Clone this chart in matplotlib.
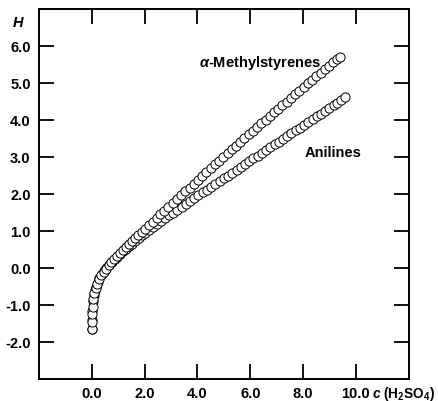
import matplotlib
matplotlib.use("Agg")
import matplotlib.pyplot as plt

plt.rcParams['font.family'] = ['Liberation Sans', 'DejaVu Sans']
plt.rcParams['font.weight'] = 'bold'
plt.rcParams['mathtext.fontset'] = 'custom'
plt.rcParams['mathtext.rm'] = 'Liberation Sans:bold'
plt.rcParams['mathtext.it'] = 'Liberation Sans:italic:bold'
plt.rcParams['mathtext.bf'] = 'Liberation Sans:bold'

# alpha-Methylstyrenes
c_ms = [0.00, 0.01, 0.02, 0.03, 0.06, 0.10, 0.15, 0.21, 0.28, 0.36, 0.45, 0.54,
        0.64, 0.74, 0.85, 0.96, 1.07, 1.18, 1.29, 1.40, 1.52, 1.64, 1.76, 1.89,
        2.02, 2.16, 2.30, 2.45, 2.60, 2.75, 2.90, 3.06, 3.22, 3.38, 3.54, 3.70,
        3.86, 4.02, 4.18, 4.34, 4.50, 4.66, 4.82, 4.98, 5.14, 5.30, 5.46, 5.62,
        5.78, 5.94, 6.10, 6.26, 6.42, 6.58, 6.74, 6.90, 7.06, 7.22, 7.38, 7.54,
        7.70, 7.86, 8.02, 8.18, 8.34, 8.50, 8.66, 8.82, 8.98, 9.14, 9.28, 9.40]
H_ms = [-1.65, -1.45, -1.25, -1.05, -0.85, -0.68, -0.55, -0.42, -0.30, -0.20, -0.10, -0.02,
        0.07, 0.15, 0.24, 0.32, 0.40, 0.48, 0.56, 0.64, 0.72, 0.80, 0.88, 0.97,
        1.06, 1.15, 1.25, 1.35, 1.45, 1.55, 1.65, 1.76, 1.86, 1.96, 2.07, 2.17,
        2.28, 2.38, 2.49, 2.59, 2.70, 2.80, 2.90, 3.01, 3.11, 3.21, 3.31, 3.41,
        3.51, 3.61, 3.71, 3.81, 3.91, 4.01, 4.11, 4.21, 4.31, 4.40, 4.50, 4.60,
        4.70, 4.79, 4.89, 4.99, 5.08, 5.18, 5.27, 5.37, 5.47, 5.56, 5.64, 5.71]

# Anilines
c_an = [0.00, 0.01, 0.02, 0.04, 0.07, 0.11, 0.16, 0.22, 0.29, 0.37, 0.46, 0.55,
        0.65, 0.75, 0.86, 0.97, 1.08, 1.19, 1.30, 1.41, 1.53, 1.65, 1.77, 1.90,
        2.03, 2.17, 2.31, 2.46, 2.61, 2.76, 2.92, 3.08, 3.24, 3.40, 3.56, 3.72,
        3.88, 4.04, 4.20, 4.36, 4.52, 4.68, 4.84, 5.00, 5.16, 5.32, 5.48, 5.64,
        5.80, 5.96, 6.12, 6.28, 6.44, 6.60, 6.76, 6.92, 7.08, 7.24, 7.40, 7.56,
        7.72, 7.88, 8.04, 8.20, 8.36, 8.52, 8.68, 8.84, 9.00, 9.16, 9.30, 9.44, 9.60]
H_an = [-1.65, -1.40, -1.15, -0.90, -0.72, -0.60, -0.50, -0.38, -0.27, -0.17, -0.08, 0.00,
        0.08, 0.15, 0.23, 0.31, 0.38, 0.45, 0.52, 0.59, 0.66, 0.73, 0.80, 0.88,
        0.95, 1.02, 1.10, 1.18, 1.26, 1.34, 1.42, 1.50, 1.58, 1.66, 1.74, 1.82,
        1.89, 1.97, 2.05, 2.12, 2.20, 2.27, 2.35, 2.43, 2.50, 2.58, 2.65, 2.73,
        2.81, 2.88, 2.96, 3.03, 3.11, 3.19, 3.26, 3.34, 3.41, 3.49, 3.57, 3.64,
        3.72, 3.79, 3.87, 3.95, 4.02, 4.10, 4.17, 4.25, 4.33, 4.40, 4.47, 4.54, 4.62]

x_ticks = [0, 2, 4, 6, 8, 10]
x_labels = ['0.0', '2.0', '4.0', '6.0', '8.0', '10.0']
y_ticks = [-2, -1, 0, 1, 2, 3, 4, 5, 6]
y_labels = ['-2.0', '-1.0', '0.0', '1.0', '2.0', '3.0', '4.0', '5.0', '6.0']

W, Hpx = 438, 402
fig = plt.figure(figsize=(W/100, Hpx/100), dpi=100)
ax = fig.add_axes([39/W, 1-380/Hpx, (408.7-39)/W, (380-10)/Hpx])

mk = dict(linestyle='none', marker='o', markersize=6.6, markerfacecolor='white',
          markeredgecolor='black', markeredgewidth=0.7)
ax.plot(c_an, H_an, **mk)
ax.plot(c_ms, H_ms, **mk)

ax.set_xlim(-2, 12)
ax.set_ylim(-3, 7)
ax.set_xticks(x_ticks)
ax.set_xticklabels(x_labels)
ax.set_yticks(y_ticks)
ax.set_yticklabels(y_labels)
for s in ax.spines.values():
    s.set_linewidth(1.4)
ax.tick_params(direction='in', length=11, width=1.3, top=True, right=True,
               labelsize=10.5, colors='black')
ax.tick_params(axis='x', pad=5)
ax.tick_params(axis='y', pad=6)
for lab in ax.get_xticklabels() + ax.get_yticklabels():
    lab.set_fontweight('bold')

fig.text(13/W, 1-23/Hpx, 'H', fontsize=10.5, fontweight='bold', style='italic',
         ha='left', va='center')
fig.text(372/W, 1-394/Hpx, r'$c$ (H$_2$SO$_4$)', fontsize=9.8, fontweight='bold',
         ha='left', va='center')

fig.text(260/W, 1-62.5/Hpx, r'$\alpha$-Methylstyrenes', fontsize=10.5,
         fontweight='bold', ha='center', va='center')
fig.text(333.5/W, 1-153/Hpx, 'Anilines', fontsize=10.5,
         fontweight='bold', ha='center', va='center')

fig.savefig('out.png', dpi=100)
